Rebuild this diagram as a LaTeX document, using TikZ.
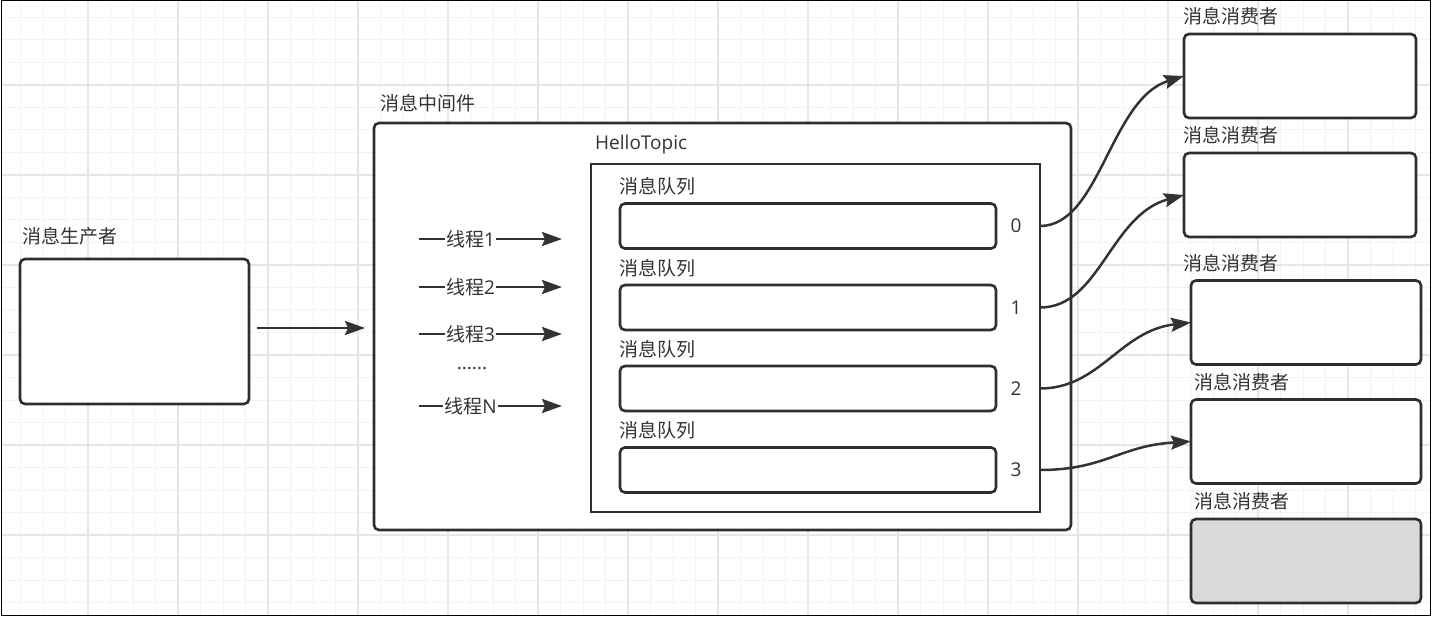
\documentclass[tikz,border=0pt]{standalone}
\usepackage{fontspec}
\setmainfont{Open Sans}
\newfontfamily\cjk{Noto Sans CJK SC}
\usetikzlibrary{arrows.meta,positioning}
\definecolor{edge}{HTML}{2A2F34}
\definecolor{ink}{HTML}{333333}
\definecolor{gridmin}{HTML}{F2F2F2}
\definecolor{gridmaj}{HTML}{E6E6E6}
\definecolor{idle}{HTML}{D9D9D9}

\tikzset{
  box/.style={draw=edge,line width=2.6pt,rounded corners=5pt,fill=white,
              inner sep=0pt,outer sep=0pt},
  lbl/.style={font=\cjk\fontsize{19}{22}\selectfont,text=ink,inner sep=0pt,anchor=west},
  num/.style={font=\fontsize{19}{22}\selectfont,text=ink,inner sep=0pt},
  thread/.style={font=\fontsize{19}{22}\selectfont,text=ink,fill=white,inner sep=1pt},
  flow/.style={draw=ink,line width=2.5pt,-{Stealth[length=20pt,width=14pt,inset=3pt]}},
}

\begin{document}
\begin{tikzpicture}[x=1pt,y=-1pt]
  \useasboundingbox (0,0) rectangle (1432,617);
  % paper grid
  \begin{scope}
    \clip (1,1) rectangle (1430.5,615);
    \foreach \gx in {-2,20.5,...,1432} \draw[gridmin,line width=1pt] (\gx,0) -- (\gx,617);
    \foreach \gy in {-5,17.5,...,617} \draw[gridmin,line width=1pt] (0,\gy) -- (1432,\gy);
    \foreach \gx in {88,178,...,1432} \draw[gridmaj,line width=1.3pt] (\gx,0) -- (\gx,617);
    \foreach \gy in {85,175,...,617} \draw[gridmaj,line width=1.3pt] (0,\gy) -- (1432,\gy);
  \end{scope}
  \draw[black,line width=1pt] (1,1) rectangle (1430.5,615);

  % producer
  \node[box,minimum width=229pt,minimum height=145pt] (prod) at (134.5,331.5) {};
  \node[lbl] at (22,236) {消息生产者};

  % middleware and topic
  \node[box,minimum width=697pt,minimum height=407pt] (mw) at (722.5,326.5) {};
  \node[lbl] at (380,103) {消息中间件};
  \node[box,sharp corners,minimum width=449pt,minimum height=348pt] (topic) at (815.5,338) {};
  \node[num,anchor=base west] (tname) at (595,150) {HelloTopic};

  % queues
  \foreach \i/\y in {0/226,1/307.5,2/388.5,3/470}{
    \node[box,minimum width=376pt,minimum height=45pt] (q\i) at (808,\y) {};
    \node[lbl] at (619,\y-39.5) {消息队列};
    \node[num] (n\i) at (1016,\y) {\i};
  }

  % threads
  \foreach \t/\y in {1/239,2/287,3/334,N/406}{
    \coordinate (ta\t) at (419,\y);
    \coordinate (tb\t) at (562,\y);
    \draw[flow] (ta\t) -- (tb\t) node[thread,pos=0.36] {{\cjk 线程}\t};
  }
  \node[num] (dots) at (472,369) {......};

  % consumers
  \foreach \n/\x/\w/\y/\lx/\c in {1/1300/232/76/1183/white,2/1300/232/195/1183/white,
                                  3/1306/230/322.5/1183/white,4/1306/230/441.5/1194/white,
                                  5/1306/230/561/1194/idle}{
    \node[box,fill=\c,minimum width=\w pt,minimum height=84pt] (c\n) at (\x,\y) {};
    \node[lbl] at (\lx,\y-59.5) {消息消费者};
  }

  % connectors
  \draw[flow,shorten <=8pt,shorten >=9pt] ([yshift=3.5pt]prod.east) -- ([yshift=3.5pt]prod.east -| mw.west);
  \draw[flow] (topic.east |- n0) .. controls +(60,0) and +(-74,23) .. (c1.west);
  \draw[flow] (topic.east |- n1) .. controls +(60,0) and +(-74,20) .. (c2.west);
  \draw[flow] (topic.east |- n2) .. controls +(60,0) and +(-71,8) .. (c3.west);
  \draw[flow] (topic.east |- n3) .. controls +(65,0) and +(-71,4) .. (c4.west);
\end{tikzpicture}
\end{document}
